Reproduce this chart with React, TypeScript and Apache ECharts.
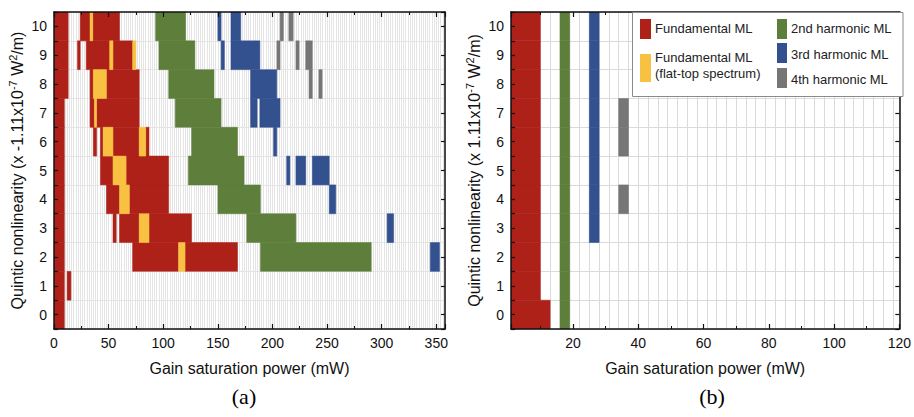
import React, { useEffect, useRef } from "react";
import * as echarts from "echarts";

type Cell = [number, number, number]; // [start mW, end mW, quintic row]

// ---------- tick labels ----------
const qTicks = [0, 1, 2, 3, 4, 5, 6, 7, 8, 9, 10];
const xTicksA = [0, 50, 100, 150, 200, 250, 300, 350];
const xTicksB = [20, 40, 60, 80, 100, 120];

// ---------- panel (a) ----------
const fundamentalA: Cell[] = [
  [0, 13, 10], [24, 33, 10], [35.5, 60, 10],
  [0, 13, 9], [21.5, 24, 9], [29.5, 51, 9], [54, 72, 9],
  [0, 13, 8], [33, 36, 8], [48, 78, 8],
  [0, 9.5, 7], [33, 37, 7], [39, 78, 7],
  [0, 9.5, 6], [36, 39, 6], [42.5, 45, 6], [54, 78, 6], [84, 87, 6],
  [0, 9.5, 5], [42.5, 54, 5], [66, 105, 5],
  [0, 9.5, 4], [48, 60, 4], [69, 105, 4],
  [0, 9.5, 3], [54, 57, 3], [60, 78, 3], [87, 126, 3],
  [0, 9.5, 2], [72, 114, 2], [120, 168, 2],
  [0, 9.5, 1], [12, 15.5, 1],
  [0, 9.5, 0],
];
const flatTopA: Cell[] = [
  [33, 35.5, 10],
  [51, 54, 9], [72, 75, 9],
  [36, 48, 8],
  [37, 39, 7],
  [45, 54, 6], [78, 84, 6],
  [54, 66, 5],
  [60, 69, 4],
  [78, 87, 3],
  [114, 120, 2],
];
const secondA: Cell[] = [
  [93, 120.5, 10],
  [96, 129, 9],
  [105, 146.5, 8],
  [111, 153, 7],
  [126, 168, 6],
  [123, 174, 5],
  [150, 189, 4],
  [176.5, 221.5, 3],
  [189, 290.5, 2],
];
const thirdA: Cell[] = [
  [150, 153, 10], [162, 171, 10],
  [153, 156, 9], [162, 188.5, 9],
  [180, 204, 8],
  [180, 186, 7], [188.5, 207, 7],
  [201, 204, 6],
  [213, 216, 5], [221.5, 230.5, 5], [236.5, 252, 5],
  [252, 258, 4],
  [305, 311, 3],
  [344.5, 353, 2],
];
const fourthA: Cell[] = [
  [207, 210, 10], [215, 219, 10],
  [204, 207, 9], [221.5, 224.5, 9], [230.5, 236.5, 9],
  [233.5, 236.5, 8], [242.5, 245.5, 8],
];

// ---------- panel (b) ----------
const fundamentalB: Cell[] = [
  [1, 10, 10], [1, 10, 9], [1, 10, 8], [1, 10, 7], [1, 10, 6], [1, 10, 5],
  [1, 10, 4], [1, 10, 3], [1, 10, 2], [1, 10, 1], [1, 13, 0],
];
const flatTopB: Cell[] = [];
const secondB: Cell[] = [
  [16, 19, 10], [16, 19, 9], [16, 19, 8], [16, 19, 7], [16, 19, 6], [16, 19, 5],
  [16, 19, 4], [16, 19, 3], [16, 19, 2], [16, 19, 1], [16, 19, 0],
];
const thirdB: Cell[] = [
  [25, 28, 10], [25, 28, 9], [25, 28, 8], [25, 28, 7], [25, 28, 6], [25, 28, 5],
  [25, 28, 4], [25, 28, 3],
];
const fourthB: Cell[] = [[34, 37, 7], [34, 37, 6], [34, 37, 4]];

const regimeNames = [
  "Fundamental ML",
  "Fundamental ML (flat-top spectrum)",
  "2nd harmonic ML",
  "3rd harmonic ML",
  "4th harmonic ML",
];
const regimeColors = ["#AE2119", "#F8C142", "#5E7F3B", "#33508F", "#777575"];

const FONT = "'Liberation Sans', Arial, Helvetica, sans-serif";
const INK = "#111";

function makeRender(color: string) {
  return (_params: any, api: any) => {
    const x0 = api.value(0);
    const x1 = api.value(1);
    const q = api.value(2);
    const p0 = api.coord([x0, q + 0.5]);
    const p1 = api.coord([x1, q - 0.5]);
    return {
      type: "rect",
      shape: { x: p0[0], y: p0[1], width: p1[0] - p0[0], height: p1[1] - p0[1] },
      style: { fill: color, stroke: color, lineWidth: 0.5 },
    };
  };
}

function cellSeries(name: string, data: Cell[], color: string, axisIdx: number) {
  return {
    type: "custom",
    name,
    xAxisIndex: axisIdx,
    yAxisIndex: axisIdx,
    data,
    encode: { x: [0, 1], y: 2 },
    renderItem: makeRender(color),
    clip: true,
    silent: true,
    z: 2,
  };
}

const axisLineStyle = { show: true, onZero: false, lineStyle: { color: INK, width: 1.5 } };
const tickStyle = { show: true, inside: true, length: 5, lineStyle: { color: INK, width: 1.2 } };
const minorStyle = { show: true, splitNumber: 2, length: 3, lineStyle: { color: INK, width: 1 } };
const labelBase = { fontSize: 14, color: INK, fontFamily: FONT };

function xMain(grid: number, pos: "bottom" | "top", range: any, ticks: number[], withName: boolean) {
  return {
    type: "value",
    gridIndex: grid,
    position: pos,
    ...range,
    axisLine: axisLineStyle,
    axisTick: tickStyle,
    minorTick: minorStyle,
    axisLabel: withName
      ? { ...labelBase, margin: 7, formatter: (v: number) => (ticks.includes(v) ? String(v) : "") }
      : { show: false },
    splitLine: { show: false },
    name: withName ? "Gain saturation power (mW)" : "",
    nameLocation: "middle",
    nameGap: 31,
    nameTextStyle: { fontSize: 16, color: INK, fontFamily: FONT },
    z: 10,
  };
}

function xGridLines(grid: number, range: any, interval: number, color: string) {
  return {
    type: "value",
    gridIndex: grid,
    position: "bottom",
    ...range,
    interval,
    axisLine: { show: false },
    axisTick: { show: false },
    axisLabel: { show: false },
    splitLine: { show: true, lineStyle: { color, width: 1 } },
    z: 0,
  };
}

const yRange = { min: -0.5, max: 10.5 };

function yLeft(grid: number, sign: string) {
  return {
    type: "value",
    gridIndex: grid,
    position: "left",
    ...yRange,
    interval: 0.5,
    axisLine: axisLineStyle,
    axisTick: { ...tickStyle, length: 4 },
    axisLabel: {
      ...labelBase,
      margin: 7,
      formatter: (v: number) => (qTicks.includes(v) ? String(v) : ""),
    },
    splitLine: { show: false },
    name: `Quintic nonlinearity (x ${sign}1.11x10{sup|-7} W{sup|2}/m)`,
    nameLocation: "middle",
    nameGap: 26,
    nameTextStyle: {
      fontSize: 16,
      color: INK,
      fontFamily: FONT,
      rich: { sup: { fontSize: 11, fontFamily: FONT, color: INK, padding: [0, 0, 10, 0] } },
    },
    z: 10,
  };
}

function yRightGrid(grid: number, color: string) {
  return {
    type: "value",
    gridIndex: grid,
    position: "right",
    ...yRange,
    interval: 1,
    axisLine: { show: false },
    axisTick: { show: false },
    axisLabel: { show: false },
    splitLine: { show: true, lineStyle: { color, width: 1 } },
    z: 0,
  };
}

function yRightTicks(grid: number) {
  return {
    type: "value",
    gridIndex: grid,
    position: "right",
    ...yRange,
    minInterval: 1,
    maxInterval: 1,
    axisLine: axisLineStyle,
    axisTick: { ...tickStyle, length: 4 },
    axisLabel: { show: false },
    splitLine: { show: false },
    z: 10,
  };
}

function legendGraphics() {
  const t = (text: string, x: number, y: number) => ({
    type: "text",
    x,
    y,
    z: 101,
    style: { text, fill: "#222", font: `13px ${FONT}`, verticalAlign: "middle" },
  });
  const sw = (x: number, y: number, w: number, h: number, fill: string) => ({
    type: "rect",
    z: 101,
    shape: { x, y, width: w, height: h },
    style: { fill },
  });
  return [
    {
      type: "rect",
      z: 100,
      shape: { x: 632.5, y: 12.5, width: 270.5, height: 84 },
      style: { fill: "#fff", stroke: "#8a8a8a", lineWidth: 1 },
    },
    sw(640, 19, 11, 20, regimeColors[0]),
    t("Fundamental ML", 655, 28),
    sw(640, 54, 11, 28, regimeColors[1]),
    t("Fundamental ML", 655, 57),
    t("(flat-top spectrum)", 655, 73),
    sw(777, 19, 10, 20, regimeColors[2]),
    t("2nd harmonic ML", 791, 28),
    sw(777, 43, 10, 20, regimeColors[3]),
    t("3rd harmonic ML", 791, 54),
    sw(777, 68, 10, 20, regimeColors[4]),
    t("4th harmonic ML", 791, 79),
    {
      type: "text",
      x: 244,
      y: 396,
      z: 101,
      style: { text: "(a)", fill: "#000", font: `22px 'Liberation Serif', 'Times New Roman', serif`, align: "center", verticalAlign: "middle" },
    },
    {
      type: "text",
      x: 712,
      y: 396,
      z: 101,
      style: { text: "(b)", fill: "#000", font: `22px 'Liberation Serif', 'Times New Roman', serif`, align: "center", verticalAlign: "middle" },
    },
  ];
}

export default function App() {
  const ref = useRef<HTMLDivElement>(null);
  useEffect(() => {
    if (!ref.current) return;
    const chart = echarts.init(ref.current, undefined, { renderer: "svg" });
    const rangeA = { min: 0, max: 358 };
    const rangeB = { min: 1, max: 120 };
    const dataA = [fundamentalA, flatTopA, secondA, thirdA, fourthA];
    const dataB = [fundamentalB, flatTopB, secondB, thirdB, fourthB];
    const series: any[] = [];
    dataA.forEach((d, i) => series.push(cellSeries(regimeNames[i], d, regimeColors[i], 0)));
    dataB.forEach((d, i) => series.push(cellSeries(regimeNames[i], d, regimeColors[i], 3)));
    const option: any = {
      animation: false,
      backgroundColor: "#fff",
      grid: [
        { left: 54, top: 12, width: 391, height: 317 },
        { left: 511, top: 12, width: 393, height: 317 },
      ],
      xAxis: [
        xMain(0, "bottom", { ...rangeA, interval: 50 }, xTicksA, true),
        xMain(0, "top", { ...rangeA, interval: 50 }, xTicksA, false),
        xGridLines(0, rangeA, 2, "#e4e4e4"),
        xMain(1, "bottom", { ...rangeB, minInterval: 20, maxInterval: 20 }, xTicksB, true),
        xMain(1, "top", { ...rangeB, minInterval: 20, maxInterval: 20 }, xTicksB, false),
        xGridLines(1, rangeB, 3, "#dadada"),
      ],
      yAxis: [
        yLeft(0, "-"),
        yRightGrid(0, "#e4e4e4"),
        yRightTicks(0),
        yLeft(1, ""),
        yRightGrid(1, "#dadada"),
        yRightTicks(1),
      ],
      series,
      graphic: legendGraphics(),
    };
    chart.setOption(option);
    return () => chart.dispose();
  }, []);
  return (
    <div
      ref={ref}
      style={{ position: "absolute", left: 0, top: 0, width: 914, height: 417 }}
    />
  );
}
